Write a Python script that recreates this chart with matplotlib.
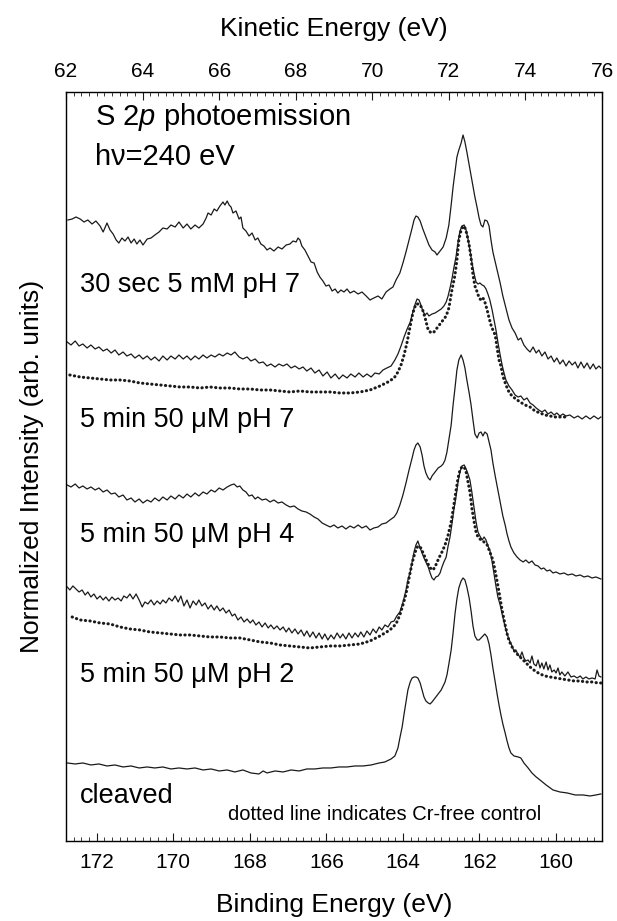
import numpy as np
import matplotlib.pyplot as plt
from matplotlib.ticker import MultipleLocator, FormatStrFormatter

plt.rcParams['font.family'] = ['Liberation Sans', 'DejaVu Sans']
plt.rcParams['mathtext.fontset'] = 'custom'
plt.rcParams['mathtext.rm'] = 'Liberation Sans'
plt.rcParams['mathtext.it'] = 'Liberation Sans:italic'

# S 2p spectra: binding energy (eV) and stacked intensity (arb. units)
be_30s_ph7 = [172.75, 172.64, 172.54, 172.43, 172.33, 172.23, 172.12, 172.02, 171.91, 171.83,
              171.73, 171.65, 171.57, 171.49, 171.42, 171.34, 171.26, 171.18, 171.10, 171.02,
              170.95, 170.87, 170.79, 170.68, 170.58, 170.48, 170.37, 170.27, 170.16, 170.06,
              169.95, 169.85, 169.74, 169.64, 169.54, 169.43, 169.33, 169.22, 169.14, 169.09,
              169.01, 168.93, 168.86, 168.78, 168.70, 168.65, 168.59, 168.54, 168.49, 168.44,
              168.36, 168.28, 168.23, 168.18, 168.10, 168.02, 167.94, 167.86, 167.79, 167.71,
              167.63, 167.55, 167.47, 167.37, 167.26, 167.16, 167.05, 166.95, 166.87, 166.79,
              166.74, 166.69, 166.64, 166.56, 166.48, 166.40, 166.32, 166.24, 166.17, 166.09,
              166.01, 165.93, 165.85, 165.77, 165.70, 165.62, 165.54, 165.46, 165.38, 165.28,
              165.17, 165.07, 164.96, 164.86, 164.76, 164.65, 164.55, 164.44, 164.34, 164.26,
              164.18, 164.08, 164.00, 163.92, 163.84, 163.76, 163.71, 163.66, 163.61, 163.55,
              163.48, 163.40, 163.32, 163.24, 163.16, 163.11, 163.03, 162.95, 162.87, 162.80,
              162.74, 162.69, 162.64, 162.59, 162.54, 162.48, 162.43, 162.38, 162.33, 162.27,
              162.22, 162.17, 162.12, 162.06, 162.01, 161.96, 161.91, 161.86, 161.80, 161.75,
              161.70, 161.65, 161.59, 161.54, 161.46, 161.39, 161.31, 161.23, 161.15, 161.07,
              160.99, 160.92, 160.84, 160.76, 160.68, 160.60, 160.52, 160.45, 160.37, 160.29,
              160.21, 160.13, 160.05, 159.98, 159.90, 159.82, 159.74, 159.66, 159.58, 159.50,
              159.43, 159.35, 159.27, 159.19, 159.11, 159.03, 158.96, 158.88, 158.83]
int_30s_ph7 = [621, 622, 624, 622, 619, 621, 617, 620, 615, 609,
               618, 611, 607, 601, 598, 603, 600, 604, 598, 602,
               597, 601, 596, 602, 603, 606, 609, 613, 612, 616,
               614, 619, 613, 617, 612, 616, 613, 617, 623, 628,
               626, 632, 630, 635, 639, 636, 640, 636, 634, 628,
               630, 622, 624, 613, 610, 605, 608, 601, 603, 597,
               595, 591, 593, 590, 594, 592, 596, 597, 600, 599,
               603, 601, 595, 591, 585, 579, 578, 569, 564, 560,
               555, 556, 550, 552, 548, 551, 549, 552, 548, 550,
               547, 549, 545, 541, 543, 545, 542, 549, 552, 554,
               561, 568, 578, 589, 601, 613, 621, 625, 624, 620,
               612, 604, 596, 591, 589, 586, 590, 594, 603, 616,
               636, 654, 669, 684, 691, 698, 706, 699, 689, 676,
               665, 654, 644, 633, 623, 616, 614, 621, 620, 615,
               601, 589, 579, 571, 558, 545, 533, 521, 513, 508,
               501, 503, 496, 492, 489, 494, 488, 491, 485, 489,
               482, 485, 479, 483, 477, 481, 475, 480, 476, 479,
               473, 479, 473, 478, 472, 477, 472, 475, 473]

be_5m_ph7 = [172.77, 172.67, 172.56, 172.46, 172.36, 172.25, 172.15, 172.04, 171.94, 171.83,
             171.73, 171.62, 171.52, 171.42, 171.31, 171.21, 171.10, 171.00, 170.89, 170.79,
             170.68, 170.58, 170.48, 170.37, 170.27, 170.16, 170.06, 169.95, 169.85, 169.74,
             169.64, 169.54, 169.43, 169.33, 169.22, 169.12, 169.01, 168.91, 168.80, 168.70,
             168.59, 168.49, 168.39, 168.28, 168.18, 168.07, 167.97, 167.86, 167.76, 167.65,
             167.55, 167.45, 167.34, 167.24, 167.13, 167.03, 166.92, 166.82, 166.71, 166.61,
             166.51, 166.40, 166.30, 166.19, 166.09, 165.98, 165.88, 165.77, 165.67, 165.57,
             165.46, 165.36, 165.25, 165.15, 165.04, 164.94, 164.83, 164.73, 164.62, 164.52,
             164.42, 164.31, 164.21, 164.13, 164.05, 163.97, 163.89, 163.81, 163.74, 163.68,
             163.63, 163.58, 163.53, 163.48, 163.42, 163.37, 163.32, 163.24, 163.16, 163.08,
             163.00, 162.93, 162.87, 162.82, 162.77, 162.72, 162.67, 162.61, 162.56, 162.51,
             162.46, 162.40, 162.35, 162.30, 162.25, 162.20, 162.14, 162.09, 162.04, 161.99,
             161.93, 161.88, 161.83, 161.78, 161.73, 161.67, 161.62, 161.57, 161.52, 161.46,
             161.41, 161.36, 161.31, 161.23, 161.15, 161.07, 160.99, 160.92, 160.84, 160.76,
             160.68, 160.60, 160.52, 160.45, 160.37, 160.29, 160.21, 160.13, 160.05, 159.98,
             159.90, 159.82, 159.74, 159.64, 159.53, 159.43, 159.32, 159.22, 159.11, 159.01,
             158.90, 158.83]
int_5m_ph7 = [499, 496, 500, 495, 497, 493, 496, 492, 494, 490,
              492, 488, 491, 486, 489, 485, 487, 483, 486, 482,
              485, 481, 484, 480, 485, 481, 485, 482, 486, 482,
              485, 481, 485, 482, 486, 483, 486, 484, 487, 485,
              488, 486, 489, 484, 482, 484, 480, 482, 478, 479,
              475, 477, 474, 477, 475, 477, 473, 475, 472, 474,
              470, 473, 468, 471, 465, 469, 463, 467, 462, 466,
              463, 467, 464, 468, 464, 467, 464, 468, 467, 471,
              473, 475, 481, 487, 495, 504, 512, 519, 529, 537,
              542, 541, 536, 530, 526, 528, 525, 527, 528, 530,
              532, 535, 539, 545, 553, 562, 573, 585, 599, 610,
              615, 616, 611, 602, 591, 579, 567, 559, 557, 558,
              556, 555, 552, 547, 541, 531, 521, 511, 499, 486,
              476, 468, 461, 455, 451, 446, 444, 445, 441, 443,
              438, 436, 433, 431, 429, 431, 427, 429, 426, 428,
              425, 427, 425, 426, 423, 425, 422, 425, 422, 425,
              422, 424]

be_ctrl_ph7 = [172.70, 172.43, 172.17, 171.91, 171.65, 171.39, 171.13, 170.87, 170.61, 170.34,
               170.08, 169.82, 169.56, 169.30, 169.04, 168.78, 168.52, 168.26, 167.99, 167.73,
               167.47, 167.21, 166.95, 166.69, 166.43, 166.17, 165.90, 165.64, 165.38, 165.12,
               164.86, 164.60, 164.39, 164.23, 164.13, 164.05, 163.97, 163.89, 163.81, 163.74,
               163.66, 163.58, 163.50, 163.42, 163.34, 163.26, 163.19, 163.11, 163.03, 162.95,
               162.87, 162.80, 162.72, 162.64, 162.59, 162.54, 162.48, 162.43, 162.38, 162.33,
               162.27, 162.22, 162.17, 162.12, 162.06, 162.01, 161.96, 161.91, 161.86, 161.80,
               161.75, 161.70, 161.65, 161.59, 161.54, 161.49, 161.44, 161.39, 161.31, 161.23,
               161.15, 161.05, 160.94, 160.81, 160.68, 160.55, 160.42, 160.29, 160.16, 160.03,
               159.90, 159.74]
int_ctrl_ph7 = [466, 464, 463, 462, 461, 461, 460, 458, 457, 456,
                455, 454, 454, 453, 454, 453, 453, 452, 452, 451,
                451, 450, 449, 450, 449, 449, 449, 448, 448, 449,
                451, 455, 459, 463, 469, 476, 486, 499, 515, 528,
                537, 537, 533, 523, 511, 508, 509, 513, 517, 521,
                525, 533, 551, 566, 581, 601, 611, 615, 613, 607,
                596, 583, 566, 555, 549, 543, 541, 543, 539, 531,
                523, 516, 511, 506, 493, 481, 475, 465, 456, 449,
                445, 442, 439, 436, 434, 430, 428, 426, 425, 424,
                424, 424]

be_5m_ph4 = [172.77, 172.67, 172.56, 172.46, 172.36, 172.25, 172.15, 172.04, 171.94, 171.83,
             171.73, 171.62, 171.52, 171.42, 171.31, 171.21, 171.10, 171.00, 170.89, 170.79,
             170.68, 170.58, 170.48, 170.37, 170.27, 170.16, 170.06, 169.95, 169.85, 169.74,
             169.64, 169.54, 169.43, 169.33, 169.22, 169.12, 169.01, 168.91, 168.80, 168.70,
             168.59, 168.49, 168.41, 168.33, 168.26, 168.18, 168.10, 168.02, 167.94, 167.86,
             167.79, 167.68, 167.58, 167.47, 167.37, 167.26, 167.16, 167.05, 166.95, 166.84,
             166.74, 166.64, 166.53, 166.43, 166.32, 166.22, 166.11, 166.01, 165.90, 165.80,
             165.70, 165.59, 165.49, 165.38, 165.28, 165.17, 165.07, 164.96, 164.86, 164.76,
             164.65, 164.55, 164.44, 164.34, 164.23, 164.16, 164.08, 164.00, 163.92, 163.84,
             163.76, 163.71, 163.66, 163.61, 163.55, 163.50, 163.45, 163.40, 163.34, 163.29,
             163.24, 163.16, 163.08, 163.00, 162.95, 162.90, 162.85, 162.80, 162.74, 162.69,
             162.64, 162.59, 162.54, 162.48, 162.43, 162.38, 162.33, 162.27, 162.22, 162.17,
             162.12, 162.06, 162.01, 161.96, 161.91, 161.86, 161.80, 161.75, 161.70, 161.65,
             161.59, 161.54, 161.49, 161.44, 161.39, 161.33, 161.28, 161.23, 161.18, 161.10,
             161.02, 160.94, 160.86, 160.79, 160.71, 160.63, 160.55, 160.47, 160.39, 160.32,
             160.24, 160.16, 160.08, 160.00, 159.90, 159.79, 159.69, 159.58, 159.48, 159.37,
             159.27, 159.17, 159.06, 158.96, 158.83]
int_5m_ph4 = [356, 354, 357, 353, 355, 352, 354, 351, 353, 349,
              351, 347, 348, 344, 346, 341, 343, 339, 342, 338,
              341, 339, 343, 340, 344, 341, 345, 342, 346, 343,
              347, 344, 348, 345, 349, 347, 351, 349, 353, 351,
              354, 356, 357, 354, 355, 351, 349, 345, 346, 342,
              344, 341, 342, 339, 341, 338, 339, 336, 334, 335,
              332, 330, 329, 327, 324, 322, 318, 316, 314, 316,
              313, 315, 312, 315, 313, 316, 313, 315, 311, 313,
              314, 317, 318, 321, 324, 328, 336, 346, 358, 371,
              383, 391, 396, 398, 394, 386, 375, 368, 363, 361,
              365, 369, 373, 375, 377, 381, 389, 401, 416, 436,
              453, 471, 481, 486, 481, 473, 461, 448, 436, 421,
              407, 403, 408, 409, 405, 409, 407, 399, 391, 378,
              365, 355, 345, 335, 325, 316, 307, 300, 294, 288,
              284, 281, 279, 281, 278, 280, 276, 275, 272, 273,
              270, 271, 268, 269, 267, 268, 266, 267, 265, 266,
              264, 265, 263, 264, 262]

be_5m_ph2 = [172.77, 172.70, 172.62, 172.54, 172.46, 172.38, 172.30, 172.23, 172.15, 172.07,
             171.99, 171.91, 171.83, 171.76, 171.68, 171.60, 171.52, 171.44, 171.36, 171.29,
             171.21, 171.13, 171.05, 170.97, 170.89, 170.81, 170.74, 170.66, 170.58, 170.50,
             170.42, 170.34, 170.27, 170.19, 170.11, 170.03, 169.95, 169.87, 169.80, 169.72,
             169.64, 169.56, 169.48, 169.40, 169.33, 169.25, 169.17, 169.09, 169.01, 168.93,
             168.86, 168.78, 168.70, 168.62, 168.54, 168.46, 168.39, 168.31, 168.23, 168.15,
             168.07, 167.99, 167.92, 167.84, 167.76, 167.68, 167.60, 167.52, 167.45, 167.37,
             167.29, 167.21, 167.13, 167.05, 166.98, 166.90, 166.82, 166.74, 166.66, 166.58,
             166.51, 166.43, 166.35, 166.27, 166.19, 166.11, 166.04, 165.96, 165.88, 165.80,
             165.72, 165.64, 165.57, 165.49, 165.41, 165.33, 165.25, 165.17, 165.10, 165.02,
             164.94, 164.86, 164.78, 164.70, 164.62, 164.55, 164.47, 164.39, 164.31, 164.23,
             164.16, 164.08, 164.02, 163.97, 163.92, 163.87, 163.81, 163.76, 163.71, 163.66,
             163.61, 163.55, 163.50, 163.45, 163.40, 163.34, 163.29, 163.24, 163.19, 163.14,
             163.08, 163.03, 162.98, 162.93, 162.87, 162.82, 162.77, 162.72, 162.67, 162.61,
             162.56, 162.51, 162.46, 162.40, 162.35, 162.30, 162.25, 162.20, 162.14, 162.09,
             162.04, 161.99, 161.93, 161.88, 161.83, 161.78, 161.73, 161.67, 161.62, 161.57,
             161.52, 161.46, 161.41, 161.36, 161.31, 161.26, 161.20, 161.15, 161.10, 161.05,
             160.99, 160.94, 160.89, 160.84, 160.79, 160.73, 160.68, 160.63, 160.58, 160.52,
             160.47, 160.42, 160.37, 160.32, 160.26, 160.21, 160.16, 160.11, 160.05, 160.00,
             159.95, 159.90, 159.85, 159.77, 159.69, 159.61, 159.53, 159.45, 159.37, 159.30,
             159.22, 159.14, 159.06, 158.98, 158.93, 158.88, 158.83]
int_5m_ph2 = [254, 251, 255, 252, 249, 251, 246, 249, 244, 247,
              242, 245, 241, 244, 240, 244, 241, 243, 240, 245,
              243, 247, 242, 247, 241, 234, 239, 237, 241, 236,
              240, 237, 241, 238, 243, 240, 245, 239, 245, 235,
              241, 233, 240, 236, 241, 235, 238, 232, 236, 231,
              235, 230, 233, 228, 231, 225, 227, 221, 224, 219,
              222, 218, 221, 216, 219, 214, 218, 213, 216, 212,
              215, 211, 214, 209, 213, 208, 212, 207, 211, 205,
              210, 204, 209, 203, 208, 202, 207, 201, 206, 202,
              208, 203, 207, 202, 208, 203, 208, 204, 209, 204,
              210, 206, 212, 208, 214, 211, 216, 214, 219, 220,
              225, 229, 236, 243, 251, 261, 269, 279, 289, 296,
              300, 293, 288, 283, 279, 274, 268, 263, 261, 264,
              265, 268, 274, 279, 284, 295, 304, 317, 331, 345,
              359, 369, 375, 376, 372, 367, 361, 349, 333, 319,
              309, 305, 301, 304, 301, 295, 291, 279, 267, 255,
              244, 236, 227, 219, 211, 205, 199, 195, 190, 191,
              186, 184, 189, 183, 180, 181, 178, 185, 177, 175,
              181, 173, 178, 172, 179, 171, 176, 169, 171, 168,
              173, 166, 169, 165, 169, 164, 165, 163, 165, 162,
              164, 162, 163, 162, 171, 165, 164]

be_ctrl_ph2 = [172.64, 172.43, 172.17, 171.91, 171.65, 171.39, 171.13, 170.87, 170.61, 170.34,
               170.08, 169.82, 169.56, 169.30, 169.04, 168.78, 168.52, 168.26, 167.99, 167.73,
               167.47, 167.21, 166.95, 166.69, 166.43, 166.17, 165.90, 165.64, 165.38, 165.12,
               164.86, 164.60, 164.34, 164.18, 164.08, 164.00, 163.92, 163.84, 163.76, 163.68,
               163.61, 163.53, 163.45, 163.37, 163.29, 163.21, 163.14, 163.06, 162.98, 162.90,
               162.82, 162.74, 162.67, 162.61, 162.56, 162.51, 162.46, 162.40, 162.35, 162.30,
               162.25, 162.20, 162.14, 162.09, 162.04, 161.96, 161.88, 161.80, 161.73, 161.65,
               161.57, 161.49, 161.41, 161.33, 161.26, 161.18, 161.07, 160.94, 160.81, 160.68,
               160.55, 160.42, 160.29, 160.16, 160.00, 159.85, 159.69, 159.53, 159.37, 159.22,
               159.06, 158.90, 158.83]
int_ctrl_ph2 = [224, 221, 220, 218, 217, 214, 212, 211, 209, 208,
                207, 206, 206, 205, 204, 204, 203, 203, 201, 199,
                198, 196, 195, 194, 193, 194, 195, 195, 196, 197,
                200, 205, 211, 217, 226, 236, 247, 263, 278, 289,
                295, 293, 286, 279, 273, 271, 276, 283, 289, 296,
                306, 319, 336, 351, 363, 371, 374, 374, 369, 359,
                349, 333, 319, 309, 304, 301, 299, 296, 289, 281,
                266, 249, 231, 216, 204, 196, 189, 184, 179, 174,
                170, 167, 165, 164, 163, 162, 161, 160, 160, 159,
                159, 158, 158]

be_cleaved = [172.77, 172.56, 172.36, 172.15, 171.94, 171.73, 171.52, 171.31, 171.10, 170.89,
              170.68, 170.48, 170.27, 170.06, 169.85, 169.64, 169.43, 169.22, 169.01, 168.80,
              168.59, 168.39, 168.18, 167.97, 167.76, 167.65, 167.55, 167.34, 167.13, 166.92,
              166.71, 166.51, 166.30, 166.09, 165.88, 165.67, 165.46, 165.25, 165.04, 164.83,
              164.62, 164.47, 164.31, 164.21, 164.13, 164.08, 164.02, 163.97, 163.92, 163.87,
              163.81, 163.76, 163.71, 163.66, 163.61, 163.55, 163.50, 163.45, 163.40, 163.34,
              163.29, 163.24, 163.16, 163.08, 163.00, 162.95, 162.90, 162.85, 162.80, 162.74,
              162.69, 162.64, 162.59, 162.54, 162.48, 162.43, 162.38, 162.33, 162.27, 162.22,
              162.17, 162.12, 162.06, 162.01, 161.96, 161.91, 161.86, 161.80, 161.75, 161.70,
              161.65, 161.59, 161.54, 161.49, 161.44, 161.39, 161.33, 161.28, 161.23, 161.18,
              161.10, 160.99, 160.92, 160.84, 160.73, 160.63, 160.52, 160.42, 160.26, 160.08,
              159.90, 159.71, 159.50, 159.30, 159.11, 158.96, 158.83]
int_cleaved = [78, 77, 78, 76, 77, 75, 76, 74, 75, 73,
               74, 73, 74, 72, 73, 72, 73, 71, 72, 70,
               71, 69, 71, 68, 67, 70, 68, 70, 69, 71,
               70, 72, 72, 73, 73, 74, 74, 75, 75, 76,
               78, 79, 82, 85, 93, 103, 114, 127, 139, 151,
               159, 163, 164, 164, 163, 158, 151, 144, 140, 138,
               137, 139, 143, 147, 151, 155, 159, 166, 177, 191,
               208, 227, 242, 253, 260, 263, 261, 254, 243, 230,
               215, 205, 201, 201, 203, 205, 207, 204, 197, 186,
               173, 159, 147, 136, 126, 117, 108, 100, 93, 88,
               85, 84, 83, 78, 73, 68, 64, 61, 56, 51,
               49, 48, 46, 46, 45, 46, 47]

fig = plt.figure(figsize=(6.17, 9.21), dpi=100)
ax = fig.add_axes([0.107, 0.0869, 0.8687, 0.8132])

line_color = '#1a1a1a'
for be, inten in [(be_30s_ph7, int_30s_ph7), (be_5m_ph7, int_5m_ph7), (be_5m_ph4, int_5m_ph4),
                  (be_5m_ph2, int_5m_ph2), (be_cleaved, int_cleaved)]:
    ax.plot(be, inten, color=line_color, lw=0.9)
for be, inten in [(be_ctrl_ph7, int_ctrl_ph7), (be_ctrl_ph2, int_ctrl_ph2)]:
    ax.plot(be, inten, color=line_color, lw=2.2, ls=(0, (0.1, 1.4)), dash_capstyle='round')

ax.set_xlim(172.8, 158.8)
ax.set_ylim(0, 749)
ax.set_yticks([])
ax.xaxis.set_major_locator(MultipleLocator(2))
ax.xaxis.set_minor_locator(MultipleLocator(0.2))
ax.xaxis.set_major_formatter(FormatStrFormatter('%d'))
ax.tick_params(axis='x', which='both', direction='in', labelsize=15, pad=9, color=line_color)
ax.tick_params(axis='x', which='major', length=6, width=0.8)
ax.tick_params(axis='x', which='minor', length=3, width=0.6)
ax.set_xlabel('Binding Energy (eV)', fontsize=19)
ax.xaxis.set_label_coords(0.5, -0.069)
ax.set_ylabel('Normalized Intensity (arb. units)', fontsize=19)
ax.yaxis.set_label_coords(-0.041, 0.5)
for s in ax.spines.values():
    s.set_linewidth(1.0)
    s.set_color('#333333')

# kinetic energy scale on top: KE = 234.8 - BE
top = ax.twiny()
top.set_xlim(234.8 - 172.8, 234.8 - 158.8)
top.xaxis.set_major_locator(MultipleLocator(2))
top.xaxis.set_minor_locator(MultipleLocator(0.2))
top.xaxis.set_major_formatter(FormatStrFormatter('%d'))
top.tick_params(axis='x', which='both', direction='in', labelsize=15, pad=8, color=line_color)
top.tick_params(axis='x', which='major', length=6, width=0.8)
top.tick_params(axis='x', which='minor', length=3, width=0.6)
top.set_xlabel('Kinetic Energy (eV)', fontsize=19)
top.xaxis.set_label_coords(0.5, 1.075)

ax.text(0.054, 0.956, 'S 2$p$ photoemission', transform=ax.transAxes, fontsize=21, va='baseline')
ax.text(0.054, 0.902, 'h\u03bd=240 eV', transform=ax.transAxes, fontsize=21, va='baseline')
ax.text(0.026, 0.733, '30 sec 5 mM pH 7', transform=ax.transAxes, fontsize=19.5, va='baseline')
ax.text(0.026, 0.553, '5 min 50 \u03bcM pH 7', transform=ax.transAxes, fontsize=19.5, va='baseline')
ax.text(0.026, 0.399, '5 min 50 \u03bcM pH 4', transform=ax.transAxes, fontsize=19.5, va='baseline')
ax.text(0.026, 0.212, '5 min 50 \u03bcM pH 2', transform=ax.transAxes, fontsize=19.5, va='baseline')
ax.text(0.026, 0.051, 'cleaved', transform=ax.transAxes, fontsize=19.5, va='baseline')
ax.text(0.302, 0.028, 'dotted line indicates Cr-free control', transform=ax.transAxes,
        fontsize=14.5, va='baseline')

fig.savefig('out.png', dpi=100)
